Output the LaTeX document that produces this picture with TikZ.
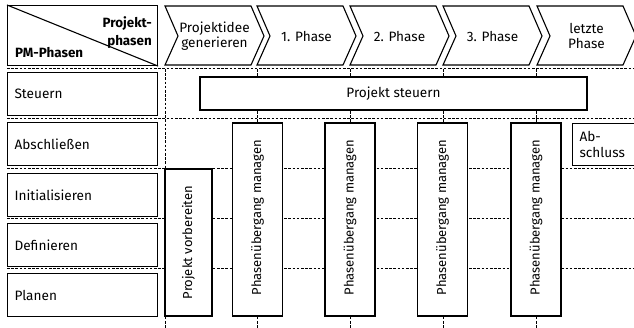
\documentclass[tikz,border=0pt]{standalone}
\usepackage{fontspec}
\setmainfont{Fira Sans}
\begin{document}
\begin{tikzpicture}[x=1pt,y=-1pt,
  box/.style={draw, line width=1.1pt, fill=white},
  gridline/.style={line width=1pt, dash pattern=on 2.6pt off 1.6pt},
  lbl/.style={font=\fontsize{13.6}{15.5}\selectfont},
  bold/.style={font=\fontsize{13.4}{18}\selectfont\bfseries},
  leftbox/.style={box, lbl, anchor=north west, minimum width=150, minimum height=43,
     text width=136, align=left, inner xsep=7},
  vbox/.style={box, minimum width=50, minimum height=193},
  vtext/.style={font=\fontsize{13}{15}\selectfont, rotate=90}]
\useasboundingbox (0,0) rectangle (634,328);
\clip (0,0) rectangle (634,328);
% dotted grid
\foreach \y in {69,119,169,219,269} \draw[gridline] (7,\y) -- (634,\y);
\foreach \x in {165,257,350.5,443,536} \draw[gridline] (\x,69) -- (\x,328);
% header
\node[box, anchor=north west, minimum width=150, minimum height=60] (hdr) at (7,5) {};
\draw[line width=1.1pt] (hdr.north west) -- (hdr.south east);
\node[bold, align=right, anchor=north east, inner sep=0] (pp) at (152,16) {Projekt-\\phasen};
\node[bold, anchor=base west, inner sep=0] (pm) at (15,58) {PM-Phasen};
% left column
\node[leftbox] (st) at (7,72) {Steuern};
\node[leftbox] (ab) at (7,122) {Abschließen};
\node[leftbox] (in) at (7,173) {Initialisieren};
\node[leftbox] (de) at (7,223) {Definieren};
\node[leftbox] (pl) at (7,273) {Planen};
% chevrons
\foreach \x/\t/\n in {165/{Projektidee\\generieren}/c0, 257/{1. Phase}/c1, 350/{2. Phase}/c2, 443/{3. Phase}/c3, 537/{letzte\\Phase}/c4} {
  \draw[box] (\x,6) -- ++(86,0) -- ++(13,30) -- ++(-13,29) -- ++(-86,0) -- ++(13,-29) -- cycle;
  \node[lbl, align=center] (\n) at (\x+49.5,36) {\t};
}
% Projekt steuern
\node[box, lbl, minimum width=387, minimum height=33] (ps) at (393.5,93.5) {Projekt steuern};
% Projekt vorbereiten
\node[box, minimum width=47, minimum height=147] (pv) at (188.5,242.5) {};
\node[vtext] at (pv.center) {Projekt vorbereiten};
% Phasenuebergang
\foreach \x/\n in {257.5/p1, 350/p2, 442.5/p3, 536/p4} {
  \node[vbox] (\n) at (\x,219.5) {};
  \node[vtext] at ([yshift=2]\n.center) {Phasenübergang managen};
}
% Abschluss
\node[box, lbl, anchor=north west, minimum width=75, minimum height=42, text width=61, align=left, inner xsep=7] (abs) at (572,123) {Ab-\\schluss};
\end{tikzpicture}
\end{document}
